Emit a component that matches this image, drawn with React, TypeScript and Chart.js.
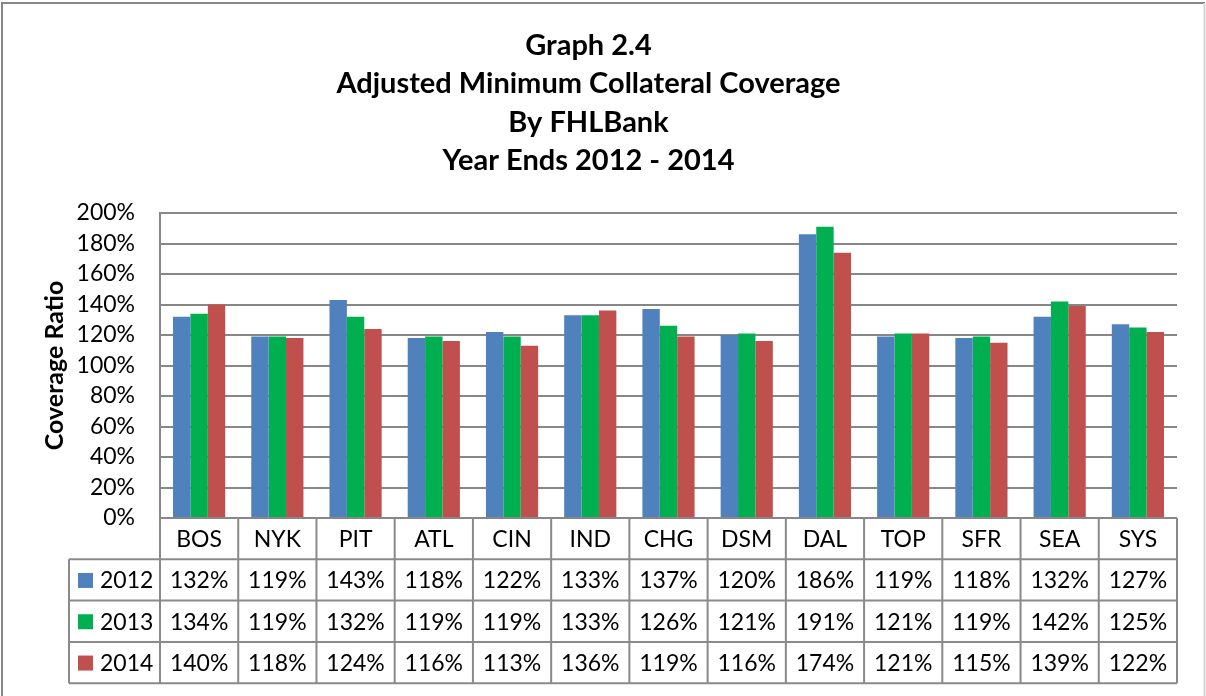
import React, { useEffect, useRef } from "react";
import { Chart, registerables } from "chart.js";

Chart.register(...registerables);

const categories = ["BOS", "NYK", "PIT", "ATL", "CIN", "IND", "CHG", "DSM", "DAL", "TOP", "SFR", "SEA", "SYS"];
const seriesNames = ["2012", "2013", "2014"];
const values2012 = [132, 119, 143, 118, 122, 133, 137, 120, 186, 119, 118, 132, 127];
const values2013 = [134, 119, 132, 119, 119, 133, 126, 121, 191, 121, 119, 142, 125];
const values2014 = [140, 118, 124, 116, 113, 136, 119, 116, 174, 121, 115, 139, 122];
const seriesColors = ["#4F81BD", "#00B050", "#C0504D"];
const titleLines = ["Graph 2.4", "Adjusted Minimum Collateral Coverage", "By FHLBank", "Year Ends 2012 - 2014"];
const yAxisTitle = "Coverage Ratio";

const FONT = "Lato, 'Open Sans', 'Noto Sans', sans-serif";
const LINE = "#8a8a8a";

const tablePlugin = {
  id: "dataTable",
  afterDraw(chart: any) {
    const { ctx, chartArea } = chart;
    const xs = chart.scales.x;
    const n = categories.length;
    const w = (chartArea.right - chartArea.left) / n;
    const top = chartArea.bottom;
    const rowH = 41.3;
    const legendLeft = 69;
    const bottom = top + rowH * 4;
    const all = [values2012, values2013, values2014];
    ctx.save();
    ctx.strokeStyle = LINE;
    ctx.lineWidth = 2;
    ctx.beginPath();
    for (let i = 0; i <= n; i++) {
      const x = chartArea.left + i * w;
      ctx.moveTo(x, top);
      ctx.lineTo(x, bottom);
    }
    ctx.moveTo(legendLeft, top + rowH);
    ctx.lineTo(legendLeft, bottom);
    for (let r = 1; r <= 4; r++) {
      const y = top + r * rowH;
      ctx.moveTo(legendLeft, y);
      ctx.lineTo(chartArea.right, y);
    }
    ctx.stroke();

    ctx.fillStyle = "#000";
    ctx.font = `23px ${FONT}`;
    ctx.textBaseline = "middle";
    ctx.textAlign = "center";
    for (let i = 0; i < n; i++) {
      const cx = xs.getPixelForValue(i);
      ctx.fillText(categories[i], cx, top + rowH / 2 + 1);
      for (let s = 0; s < 3; s++) {
        ctx.fillText(all[s][i] + "%", cx, top + rowH * (s + 1.5) + 1);
      }
    }
    ctx.textAlign = "left";
    for (let s = 0; s < 3; s++) {
      const cy = top + rowH * (s + 1.5);
      ctx.fillStyle = seriesColors[s];
      ctx.fillRect(78, cy - 7, 15, 15);
      ctx.fillStyle = "#000";
      ctx.fillText(seriesNames[s], 100, cy + 1);
    }
    ctx.restore();
  },
  beforeDraw(chart: any) {
    const { ctx, width, height } = chart;
    ctx.save();
    ctx.fillStyle = "#fff";
    ctx.fillRect(0, 0, width, height);
    ctx.lineWidth = 2;
    ctx.strokeStyle = "#878787";
    ctx.beginPath();
    ctx.moveTo(2, height + 2);
    ctx.lineTo(2, 3);
    ctx.lineTo(1205, 3);
    ctx.stroke();
    ctx.strokeStyle = "#d4d4d4";
    ctx.beginPath();
    ctx.moveTo(1204.5, 3);
    ctx.lineTo(1204.5, height + 2);
    ctx.stroke();
    ctx.restore();
  },
};

export default function App() {
  const ref = useRef<HTMLCanvasElement>(null);
  useEffect(() => {
    const chart = new Chart(ref.current!, {
      type: "bar",
      data: {
        labels: categories,
        datasets: [
          { label: seriesNames[0], data: values2012, backgroundColor: seriesColors[0] },
          { label: seriesNames[1], data: values2013, backgroundColor: seriesColors[1] },
          { label: seriesNames[2], data: values2014, backgroundColor: seriesColors[2] },
        ],
      },
      options: {
        responsive: false,
        animation: false,
        devicePixelRatio: 1,
        layout: { padding: { left: 0, right: 29, top: 0, bottom: 178 } },
        datasets: { bar: { categoryPercentage: 0.667, barPercentage: 1 } },
        plugins: {
          legend: { display: false },
          tooltip: { enabled: false },
          title: {
            display: true,
            text: titleLines,
            color: "#000",
            font: { family: FONT, size: 29, weight: "bold", lineHeight: 38.5 / 29 },
            padding: { top: 26, bottom: 33 },
          },
        },
        scales: {
          x: { display: false },
          y: {
            min: 0,
            max: 200,
            ticks: {
              stepSize: 20,
              autoSkip: false,
              color: "#000",
              padding: 25,
              font: { family: FONT, size: 23, lineHeight: 1 },
              callback: (v: any) => v + "%",
            },
            grid: { color: "#878787", lineWidth: 2, drawTicks: false },
            border: { display: true, color: "#878787", width: 2 },
            title: {
              display: true,
              text: yAxisTitle,
              color: "#000",
              font: { family: FONT, size: 25, weight: "bold", lineHeight: 1.2 },
              padding: { top: 40, bottom: 0 },
            },
            afterFit: (scale: any) => {
              scale.width = 160;
            },
          },
        },
      },
      plugins: [tablePlugin],
    });
    return () => chart.destroy();
  }, []);
  return (
    <div style={{ position: "fixed", left: 0, top: 0, width: 1206, height: 696, background: "#fff" }}>
      <canvas ref={ref} width={1206} height={696} style={{ display: "block" }} />
    </div>
  );
}
